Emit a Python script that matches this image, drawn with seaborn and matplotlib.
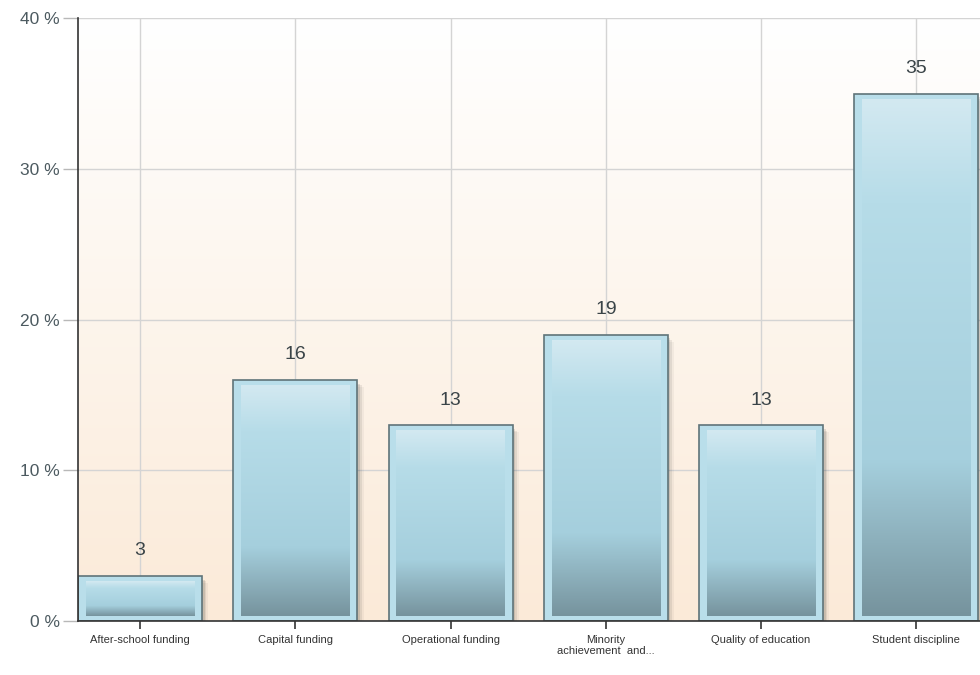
import numpy as np
import pandas as pd
import matplotlib
matplotlib.use('Agg')
import matplotlib.pyplot as plt
import seaborn as sns
from matplotlib.colors import LinearSegmentedColormap

categories = ['After-school funding', 'Capital funding', 'Operational funding',
              'Minority\nachievement  and...', 'Quality of education', 'Student discipline']
percent = [3, 16, 13, 19, 13, 35]
y_ticks = [0, 10, 20, 30, 40]
y_labels = ['0 %', '10 %', '20 %', '30 %', '40 %']

df = pd.DataFrame({'category': categories, 'percent': percent})

sns.set_style('white')
plt.rcParams['font.family'] = ['Liberation Sans', 'DejaVu Sans']

fig = plt.figure(figsize=(9.8, 6.75), dpi=100)
ax = fig.add_axes([0.0796, 0.08, 0.9204, 0.893])

ax = sns.barplot(data=df, x='category', y='percent', ax=ax, width=0.8,
                 color='#a8d4e2', edgecolor='#5f7479', linewidth=1.2, zorder=3)

# background gradient: white at top to pale peach at bottom
bg = LinearSegmentedColormap.from_list('bg', ['#fbead8', '#fdf5ec', '#ffffff'])
ax.imshow(np.linspace(0, 1, 256).reshape(-1, 1), cmap=bg, aspect='auto',
          extent=(-0.4, 5.41, 0, 40), origin='lower', zorder=0)

# bar gradient fill, clipped to each bar
bar_cmap = LinearSegmentedColormap.from_list(
    'bar', [(0, '#76939d'), (0.3, '#a5cfdd'), (0.8, '#b6dce8'), (1, '#d3e9f1')])
for p in ax.patches:
    x0, y0 = p.get_x(), p.get_y()
    w, h = p.get_width(), p.get_height()
    # soft drop shadow
    for k, a in enumerate([0.10, 0.07, 0.04]):
        sh = plt.Rectangle((x0 + 0.015 + k * 0.012, y0 - 0.25 - k * 0.12), w, h,
                           facecolor='#000000', alpha=a, zorder=2, linewidth=0)
        ax.add_patch(sh)
    p.set_facecolor('#b9deea')
    im = ax.imshow(np.linspace(0, 1, 256).reshape(-1, 1), cmap=bar_cmap, aspect='auto',
                   extent=(x0 + 0.05, x0 + w - 0.05, y0 + 0.35, y0 + h - 0.35),
                   origin='lower', zorder=4)
    im.set_clip_path(p)

ax.set_xlim(-0.4, 5.41)
ax.set_ylim(0, 40)

for i, v in enumerate(percent):
    ax.text(i, v + 1.1, str(v), ha='center', va='bottom', fontsize=14,
            color='#3a4448', zorder=5)

ax.set_yticks(y_ticks)
ax.set_yticklabels(y_labels, fontsize=12.5, color='#4c5a60')
ax.tick_params(axis='y', length=11, width=1, color='#b8b8b8', pad=2, left=True)
ax.tick_params(axis='x', length=6, width=1.2, color='#333333', pad=4, bottom=True,
               labelsize=8, labelcolor='#333333')
ax.set_xticks(range(len(categories)))
ax.set_xticklabels(categories, linespacing=1.1)

ax.grid(True, color='#d4d4d4', linewidth=1, zorder=1)
ax.set_axisbelow(True)
ax.set_xlabel('')
ax.set_ylabel('')

for s in ['top', 'right']:
    ax.spines[s].set_visible(False)
for s in ['left', 'bottom']:
    ax.spines[s].set_color('#333333')
    ax.spines[s].set_linewidth(1.2)
    ax.spines[s].set_zorder(6)

fig.savefig('out.png', dpi=100)
